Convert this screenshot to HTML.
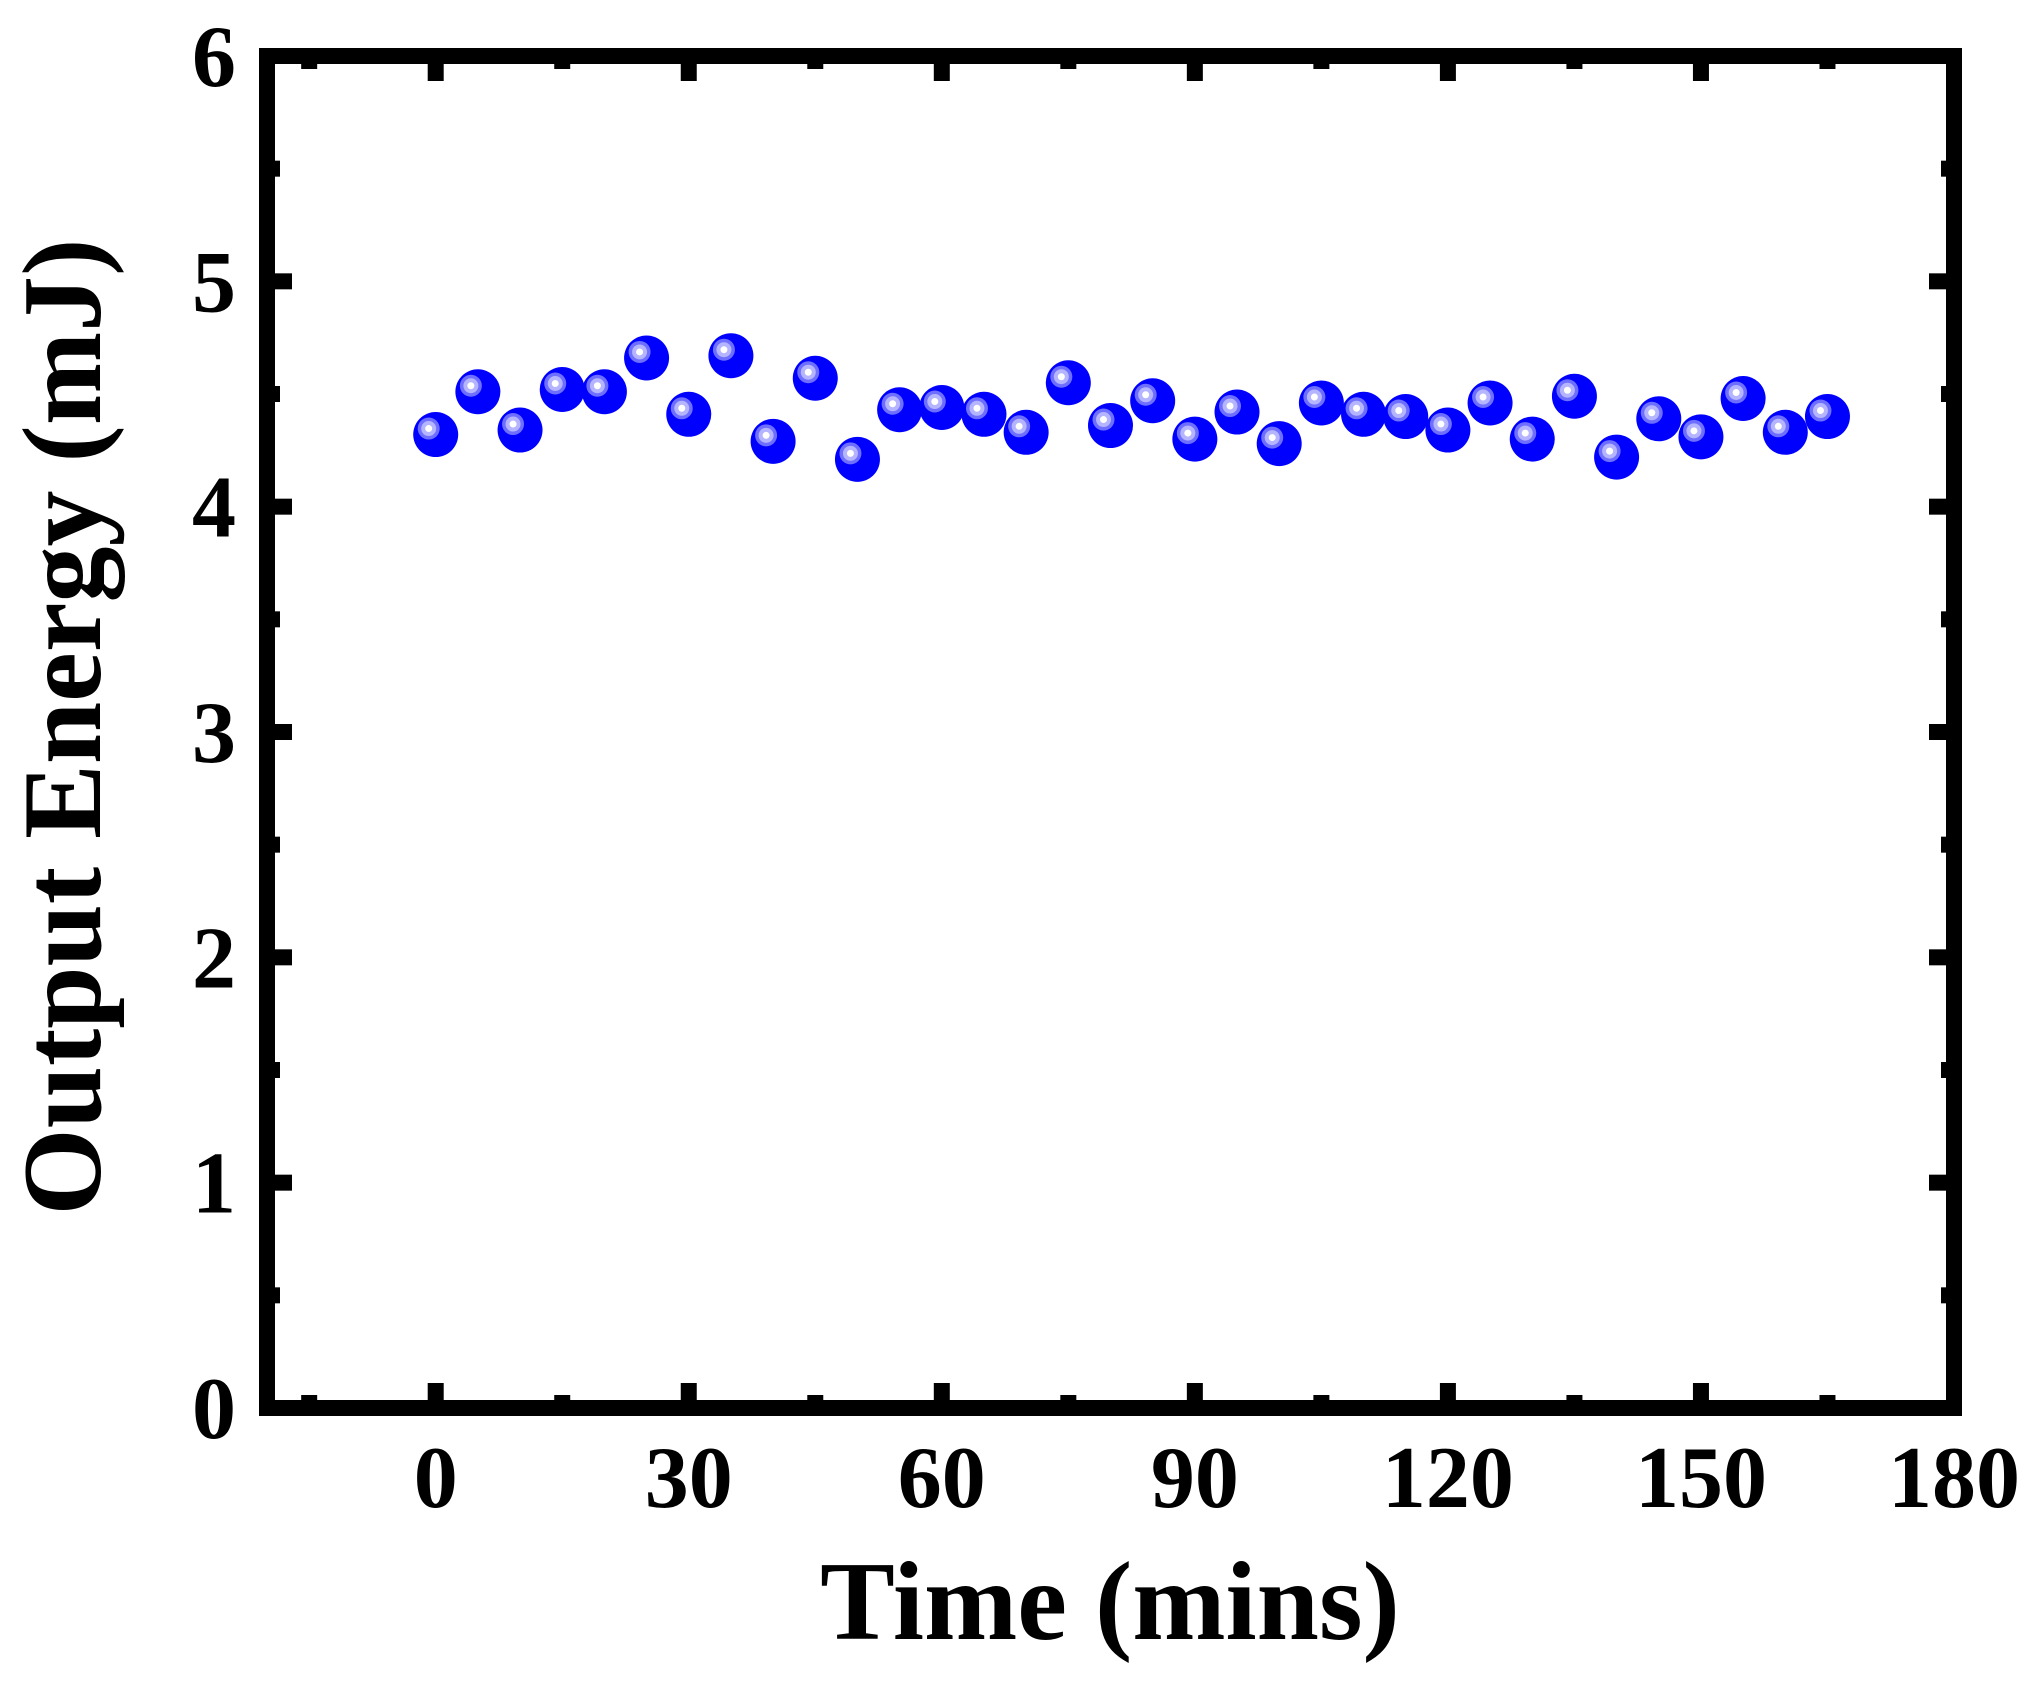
<!DOCTYPE html>
<html><head><meta charset="utf-8"><style>
html,body{margin:0;padding:0;background:#fff;}
svg{display:block;}
text{font-family:"Liberation Serif","Times New Roman",serif;font-weight:bold;fill:#000;}
</style></head><body>
<svg id="chart" width="2036" height="1686" viewBox="0 0 2036 1686" xmlns="http://www.w3.org/2000/svg">
<g id="axes"></g>
<g id="points"></g>
<text x="1110" y="1639" font-size="112" text-anchor="middle">Time (mins)</text>
<text x="0" y="0" font-size="112" text-anchor="middle" transform="translate(100,727) rotate(-90)">Output Energy (mJ)</text>
</svg>
<script>
const times = [0,5,10,15,20,25,30,35,40,45,50,55,60,65,70,75,80,85,90,95,100,105,110,115,120,125,130,135,140,145,150,155,160,165];
const energies = [4.32,4.51,4.34,4.52,4.51,4.66,4.41,4.67,4.29,4.57,4.21,4.43,4.44,4.41,4.33,4.55,4.36,4.47,4.30,4.42,4.28,4.46,4.41,4.40,4.34,4.46,4.30,4.49,4.22,4.39,4.31,4.48,4.33,4.40];
const xTicks = [0,30,60,90,120,150,180];
const xMinor = [-15,15,45,75,105,135,165];
const yTicks = [0,1,2,3,4,5,6];
const yMinor = [0.5,1.5,2.5,3.5,4.5,5.5];

const NS = "http://www.w3.org/2000/svg";
const L=267, R=1954, T=56, B=1408;
const xMin=-20, xMax=180, yMin=0, yMax=6;
function xs(v){return L+(v-xMin)/(xMax-xMin)*(R-L);}
function ys(v){return B-(v-yMin)/(yMax-yMin)*(B-T);}
function mk(tag, attrs, parent){const e=document.createElementNS(NS,tag);for(const k in attrs)e.setAttribute(k,attrs[k]);parent.appendChild(e);return e;}

const ax=document.getElementById('axes');
const frame=mk('rect',{x:L,y:T,width:R-L,height:B-T,fill:'none',stroke:'#000','stroke-width':16},ax);


const inB=B-8, inT=T+8, inL=L+8, inR=R-8;
function tickX(v,len){
  const x=xs(v);
  const t1=mk('rect',{x:x-8,y:inB-len,width:16,height:len,fill:'#000'},ax);
  
  
  const t2=mk('rect',{x:x-8,y:inT,width:16,height:len,fill:'#000'},ax);
  
  
}
function tickY(v,len){
  const y=ys(v);
  const t1=mk('rect',{x:inL,y:y-8,width:len,height:16,fill:'#000'},ax);
  
  
  const t2=mk('rect',{x:inR-len,y:y-8,width:len,height:16,fill:'#000'},ax);
  
  
}
xTicks.forEach(v=>{
  if(v<xMax) tickX(v,17);
  const t=mk('text',{x:xs(v),y:1507,'font-size':88,'text-anchor':'middle'},ax);
  t.textContent=v;
  
  
});
xMinor.forEach(v=>tickX(v,5));
yTicks.forEach(v=>{
  if(v>yMin && v<yMax) tickY(v,17);
  const t=mk('text',{x:236,y:ys(v)+30,'font-size':88,'text-anchor':'end'},ax);
  t.textContent=v;
  
  
});
yMinor.forEach(v=>tickY(v,5));

const pts=document.getElementById('points');
times.forEach((t,i)=>{
  const cx=xs(t), cy=ys(energies[i]);
  const g=mk('g',{},pts);
  
  
  mk('circle',{cx:cx,cy:cy,r:22.5,fill:'#0000ff'},g);
  mk('circle',{cx:cx-7,cy:cy-6,r:11,fill:'#6f6fff'},g);
  mk('circle',{cx:cx-7,cy:cy-6,r:7.5,fill:'#b4b4ff'},g);
  mk('circle',{cx:cx-7,cy:cy-6,r:3.5,fill:'#ffffff'},g);
});
</script>
</body></html>
